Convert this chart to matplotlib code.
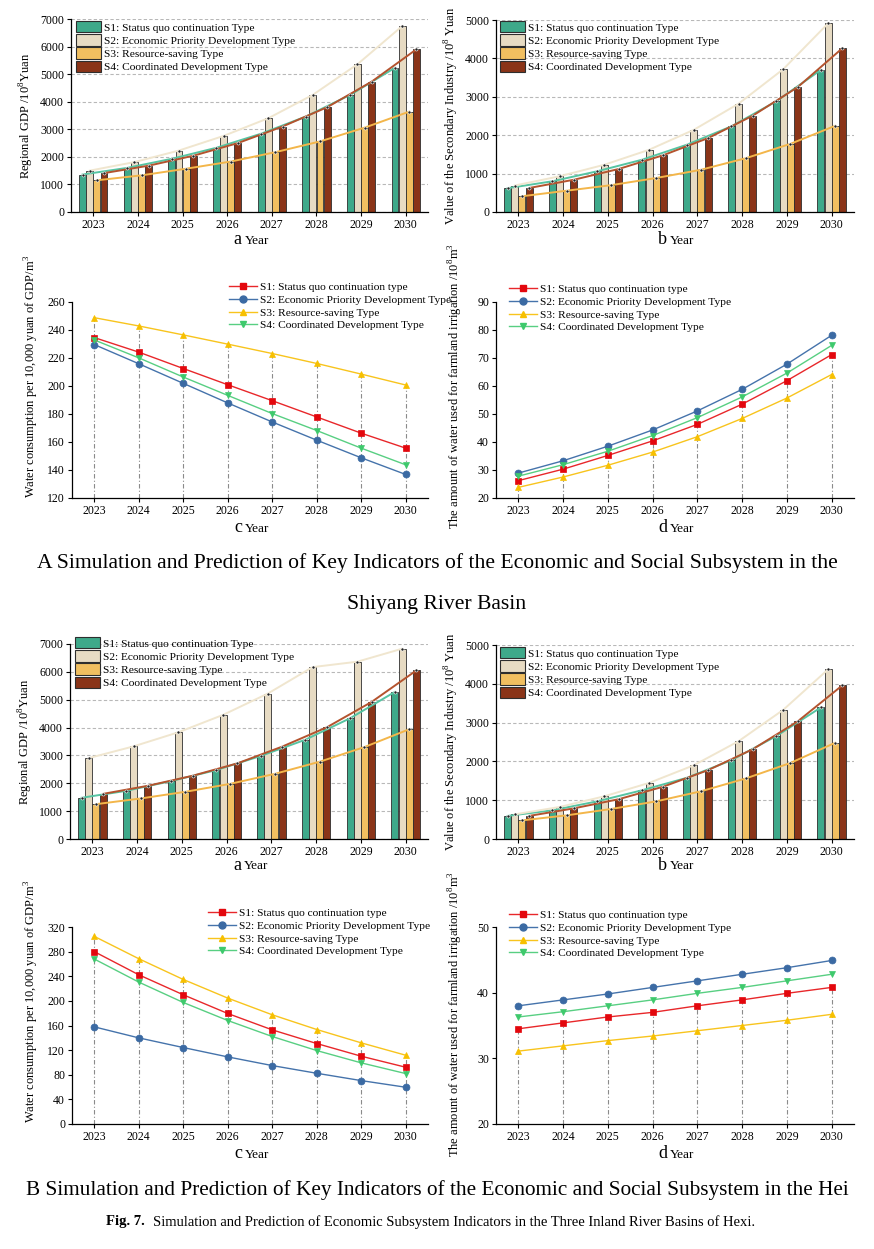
import matplotlib
matplotlib.use("Agg")
import matplotlib.pyplot as plt
import numpy as np
from matplotlib.patches import Patch
from matplotlib.lines import Line2D

plt.rcParams['font.family'] = ['Liberation Serif', 'DejaVu Serif']
plt.rcParams['mathtext.fontset'] = 'custom'
plt.rcParams['mathtext.rm'] = 'Liberation Serif'

years = ['2023', '2024', '2025', '2026', '2027', '2028', '2029', '2030']

bar_labels = ['S1: Status quo continuation Type', 'S2: Economic Priority Development Type',
              'S3: Resource-saving Type', 'S4: Coordinated Development Type']
line_labels = ['S1: Status quo continuation type', 'S2: Economic Priority Development Type',
               'S3: Resource-saving Type', 'S4: Coordinated Development Type']

# ---- A: Shiyang River Basin ----
A_gdp_s1 = [1360, 1600, 1930, 2330, 2840, 3460, 4250, 5230]
A_gdp_s2 = [1500, 1810, 2230, 2760, 3400, 4250, 5360, 6740]
A_gdp_s3 = [1150, 1330, 1570, 1830, 2170, 2560, 3060, 3640]
A_gdp_s4 = [1410, 1680, 2040, 2500, 3100, 3800, 4730, 5900]

A_sec_s1 = [620, 800, 1060, 1360, 1750, 2230, 2880, 3700]
A_sec_s2 = [690, 930, 1230, 1620, 2140, 2820, 3720, 4910]
A_sec_s3 = [410, 555, 700, 885, 1100, 1400, 1775, 2245]
A_sec_s4 = [625, 840, 1120, 1480, 1925, 2510, 3250, 4265]

A_wc_s1 = [234.6, 224.2, 212.5, 200.9, 189.5, 177.9, 166.3, 155.6]
A_wc_s2 = [229.6, 215.9, 201.9, 187.9, 174.3, 161.3, 148.7, 136.8]
A_wc_s3 = [248.8, 242.9, 236.5, 229.9, 223.2, 216.1, 208.5, 200.7]
A_wc_s4 = [232.9, 220.1, 206.4, 193.3, 180.3, 168.2, 155.6, 143.7]

A_irr_s1 = [26.2, 30.3, 35.2, 40.4, 46.3, 53.5, 61.9, 71.2]
A_irr_s2 = [28.9, 33.3, 38.5, 44.3, 51.1, 58.8, 67.8, 78.1]
A_irr_s3 = [23.8, 27.5, 31.7, 36.4, 41.9, 48.4, 55.7, 64.1]
A_irr_s4 = [27.8, 31.9, 36.7, 42.3, 48.7, 56.1, 64.6, 74.5]

# ---- B: Hei River Basin ----
B_gdp_s1 = [1480, 1730, 2080, 2470, 2980, 3565, 4335, 5280]
B_gdp_s2 = [2905, 3325, 3830, 4455, 5220, 6170, 6365, 6830]
B_gdp_s3 = [1250, 1455, 1695, 1980, 2340, 2775, 3300, 3940]
B_gdp_s4 = [1620, 1910, 2270, 2715, 3315, 4010, 4920, 6050]

B_sec_s1 = [595, 740, 970, 1255, 1575, 2030, 2650, 3390]
B_sec_s2 = [635, 825, 1100, 1445, 1900, 2520, 3330, 4370]
B_sec_s3 = [480, 610, 775, 970, 1230, 1560, 1960, 2480]
B_sec_s4 = [595, 790, 1025, 1350, 1775, 2315, 3030, 3960]

B_wc_s1 = [280.0, 242.4, 209.9, 179.5, 152.9, 130.7, 110.1, 92.2]
B_wc_s2 = [157.8, 139.9, 124.2, 109.0, 94.9, 82.4, 70.5, 59.7]
B_wc_s3 = [304.8, 268.5, 234.8, 204.5, 177.4, 153.5, 131.8, 111.7]
B_wc_s4 = [268.0, 230.5, 197.4, 168.1, 142.1, 119.3, 99.3, 81.9]

B_irr_s1 = [34.5, 35.4, 36.3, 37.0, 38.0, 38.9, 39.9, 40.8]
B_irr_s2 = [38.0, 38.9, 39.8, 40.8, 41.8, 42.8, 43.8, 44.9]
B_irr_s3 = [31.1, 31.9, 32.7, 33.4, 34.2, 35.0, 35.8, 36.7]
B_irr_s4 = [36.3, 37.1, 38.0, 38.9, 39.9, 40.8, 41.8, 42.8]

W, H = 874, 1249
fig = plt.figure(figsize=(W / 100, H / 100), dpi=100)


def add_ax(l, r, t, b):
    return fig.add_axes([l / W, 1 - b / H, (r - l) / W, (b - t) / H])


def fx(px):
    return px / W


def fy(py):
    return 1 - py / H


bar_colors = ['#3ea98a', '#e7dbc3', '#f1bf60', '#8a3418']
trend_colors = ['#56c4a2', '#f0e6cf', '#f3b64a', '#b4532e']
line_colors = ['#e8272a', '#4573ab', '#f8c41d', '#58cf82']
marker_colors = ['#e3070d', '#3b6aa3', '#f7c000', '#3ec96c']
markers = ['s', 'o', '^', 'v']
TICK_FS = 8.5
LEG_FS = 8.2
YLAB_FS = 9


def style_axes(ax):
    for s in ['top', 'right']:
        ax.spines[s].set_visible(False)
    ax.spines['left'].set_linewidth(0.9)
    ax.spines['bottom'].set_linewidth(0.9)
    ax.tick_params(axis='both', labelsize=TICK_FS, length=3, width=0.8, pad=2, direction='out')


def xlabel(ax_l, ax_r, y, letter):
    c = (ax_l + ax_r) / 2
    fig.text(fx(c - 8), fy(y), letter, fontsize=13, ha='right', va='center')
    fig.text(fx(c - 5), fy(y + 1), 'Year', fontsize=9.5, ha='left', va='center')


def bar_panel(box, series, ymax, ystep, ylab, leg_xy, letter, xl_y):
    l, r, t, b = box
    ax = add_ax(l, r, t, b)
    x = np.arange(len(years))
    w = 0.155
    offs = [-0.24, -0.08, 0.08, 0.24]
    ax.set_axisbelow(True)
    ax.yaxis.grid(True, linestyle=(0, (3, 2)), color='#b8b8b8', linewidth=0.8)
    for i, vals in enumerate(series):
        ax.bar(x + offs[i], vals, width=w, color=bar_colors[i], edgecolor='#2e2e2e',
               linewidth=0.6, zorder=2)
    for i, vals in enumerate(series):
        ax.plot(x + offs[i], vals, color=trend_colors[i], linewidth=1.4, zorder=3)
        ax.plot(x + offs[i], vals, linestyle='none', marker='o', markersize=2.2,
                markerfacecolor='#222222', markeredgecolor='white', markeredgewidth=0.4, zorder=4)
    ax.set_xlim(-0.5, len(years) - 0.5)
    ax.set_ylim(0, ymax)
    ax.set_yticks(np.arange(0, ymax + 1, ystep))
    ax.set_xticks(x)
    ax.set_xticklabels(years)
    style_axes(ax)
    ax.set_ylabel(ylab, fontsize=YLAB_FS, labelpad=3)
    handles = [Patch(facecolor=bar_colors[i], edgecolor='#2e2e2e', linewidth=0.8) for i in range(4)]
    fig.legend(handles, bar_labels, loc='upper left', bbox_to_anchor=(fx(leg_xy[0]), fy(leg_xy[1])),
               bbox_transform=fig.transFigure, frameon=False, fontsize=LEG_FS,
               handlelength=2.2, handleheight=1.15, labelspacing=0.15, handletextpad=0.3,
               borderpad=0, borderaxespad=0)
    xlabel(l, r, xl_y, letter)
    return ax


def line_panel(box, series, ylo, yhi, ystep, ylab, leg_xy, letter, xl_y, drop_idx, ylab_y):
    l, r, t, b = box
    ax = add_ax(l, r, t, b)
    x = np.arange(len(years))
    tops = np.array(series[drop_idx])
    ax.vlines(x, ylo, tops, colors='#8a8a8a', linestyles=(0, (4, 2, 1, 2)), linewidth=0.8, zorder=1)
    for i, vals in enumerate(series):
        ax.plot(x, vals, color=line_colors[i], linewidth=1.0, marker=markers[i], markersize=5,
                markerfacecolor=marker_colors[i], markeredgecolor=marker_colors[i],
                markeredgewidth=0.5, zorder=3)
    ax.set_xlim(-0.5, len(years) - 0.5)
    ax.set_ylim(ylo, yhi)
    ax.set_yticks(np.arange(ylo, yhi + 0.1, ystep))
    ax.set_xticks(x)
    ax.set_xticklabels(years)
    style_axes(ax)
    ax.set_ylabel(ylab, fontsize=YLAB_FS)
    ax.yaxis.set_label_coords(-31 / (r - l), ylab_y)
    handles = [Line2D([0], [0], color=line_colors[i], linewidth=1.0, marker=markers[i], markersize=5,
                      markerfacecolor=marker_colors[i], markeredgecolor=marker_colors[i])
               for i in range(4)]
    fig.legend(handles, line_labels, loc='upper left', bbox_to_anchor=(fx(leg_xy[0]), fy(leg_xy[1])),
               bbox_transform=fig.transFigure, frameon=False, fontsize=LEG_FS,
               handlelength=2.5, labelspacing=0.25, handletextpad=0.2,
               borderpad=0, borderaxespad=0)
    xlabel(l, r, xl_y, letter)
    return ax


gdp_lab = 'Regional GDP /10$^8$Yuan'
sec_lab = 'Value of the Secondary Industry /10$^8$ Yuan'
wc_lab = 'Water consumption per 10,000 yuan of GDP/m$^3$'
irr_lab = 'The amount of water used for farmland irrigation /10$^8$m$^3$'

# A panels
bar_panel((71, 428, 19, 212), [A_gdp_s1, A_gdp_s2, A_gdp_s3, A_gdp_s4], 7000, 1000, gdp_lab,
          (76, 21), 'a', 240)
bar_panel((496, 854, 20, 212), [A_sec_s1, A_sec_s2, A_sec_s3, A_sec_s4], 5000, 1000, sec_lab,
          (500, 21), 'b', 240)
line_panel((72, 428, 302, 498), [A_wc_s1, A_wc_s2, A_wc_s3, A_wc_s4], 120, 260, 20, wc_lab,
           (229, 282), 'c', 528, 2, 0.62)
line_panel((496, 854, 302, 498), [A_irr_s1, A_irr_s2, A_irr_s3, A_irr_s4], 20, 90, 10, irr_lab,
           (509, 284), 'd', 528, 0, 0.57)

# B panels
bar_panel((70, 428, 644, 839), [B_gdp_s1, B_gdp_s2, B_gdp_s3, B_gdp_s4], 7000, 1000, gdp_lab,
          (75, 637), 'a', 865)
bar_panel((496, 854, 645, 839), [B_sec_s1, B_sec_s2, B_sec_s3, B_sec_s4], 5000, 1000, sec_lab,
          (500, 647), 'b', 865)
line_panel((72, 428, 927, 1124), [B_wc_s1, B_wc_s2, B_wc_s3, B_wc_s4], 0, 320, 40, wc_lab,
           (208, 908), 'c', 1154, 2, 0.62)
line_panel((496, 854, 927, 1124), [B_irr_s1, B_irr_s2, B_irr_s3, B_irr_s4], 20, 50, 10, irr_lab,
           (509, 910), 'd', 1154, 0, 0.56)

fig.text(0.5, fy(563), 'A Simulation and Prediction of Key Indicators of the Economic and Social Subsystem in the',
         ha='center', va='center', fontsize=15.6)
fig.text(0.5, fy(605), 'Shiyang River Basin', ha='center', va='center', fontsize=15.6)
fig.text(0.5, fy(1190), 'B Simulation and Prediction of Key Indicators of the Economic and Social Subsystem in the Hei',
         ha='center', va='center', fontsize=15.3)
fig.text(fx(106), fy(1222), 'Fig. 7.', ha='left', va='center', fontsize=10.5, fontweight='bold')
fig.text(fx(153), fy(1222), 'Simulation and Prediction of Economic Subsystem Indicators in the Three Inland River Basins of Hexi.',
         ha='left', va='center', fontsize=10.5)

fig.savefig('out.png', dpi=100, facecolor='white')
